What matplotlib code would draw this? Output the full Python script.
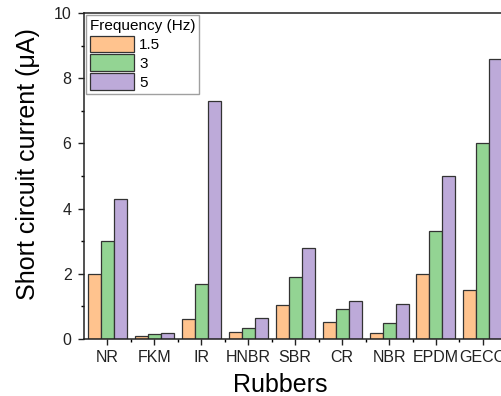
import matplotlib
matplotlib.use("Agg")
import matplotlib.pyplot as plt
import numpy as np
from matplotlib.ticker import MultipleLocator, FixedLocator

plt.rcParams['font.family'] = ['Liberation Sans', 'DejaVu Sans']

categories = ["NR", "FKM", "IR", "HNBR", "SBR", "CR", "NBR", "EPDM", "GECO"]
freq_labels = ["1.5", "3", "5"]
s15 = [2.0, 0.08, 0.6, 0.22, 1.05, 0.52, 0.18, 2.0, 1.5]
s3 = [3.0, 0.15, 1.68, 0.35, 1.9, 0.92, 0.5, 3.3, 6.0]
s5 = [4.3, 0.18, 7.3, 0.65, 2.78, 1.18, 1.07, 5.0, 8.6]
colors = ["#FFC38E", "#93D493", "#BDAAD9"]

fig = plt.figure(figsize=(5.01, 3.96), dpi=100)
ax = fig.add_axes([0.1677, 0.1439, 0.843, 0.823])

x = np.arange(len(categories))
w = 0.277
for i, (vals, c, lab) in enumerate(zip([s15, s3, s5], colors, freq_labels)):
    ax.bar(x + (i - 1) * w, vals, width=w, color=c, edgecolor="#333333",
           linewidth=0.9, label=lab, zorder=2)

ax.set_xlim(-0.5, len(categories) - 0.5)
ax.set_ylim(0, 10)
ax.set_xticks(x)
ax.set_xticklabels(categories)
ax.xaxis.set_minor_locator(FixedLocator(x[:-1] + 0.5))
ax.yaxis.set_major_locator(MultipleLocator(2))
ax.yaxis.set_minor_locator(MultipleLocator(1))
ax.tick_params(axis='both', which='major', direction='out', length=4, width=1,
               labelsize=11.5, colors='#222222')
ax.tick_params(axis='both', which='minor', direction='out', length=2.5, width=1)
ax.tick_params(axis='x', pad=4)
ax.tick_params(axis='y', pad=5)
for sp in ax.spines.values():
    sp.set_linewidth(1.1)
    sp.set_color('#222222')

ax.set_ylabel("Short circuit current (μA)", fontsize=18)
ax.set_xlabel("Rubbers", fontsize=18)
ax.yaxis.set_label_coords(-0.105, 0.537)
ax.xaxis.set_label_coords(0.464, -0.105)

leg = ax.legend(title="Frequency (Hz)", loc="upper left", fontsize=11,
                title_fontsize=11, frameon=True, fancybox=False,
                edgecolor="#888888", handlelength=2.9, handleheight=1.3,
                handletextpad=0.3, labelspacing=0.15, borderpad=0.25,
                borderaxespad=0.15, alignment='left')
leg.get_frame().set_linewidth(1.0)

fig.savefig("out.png", dpi=100)
